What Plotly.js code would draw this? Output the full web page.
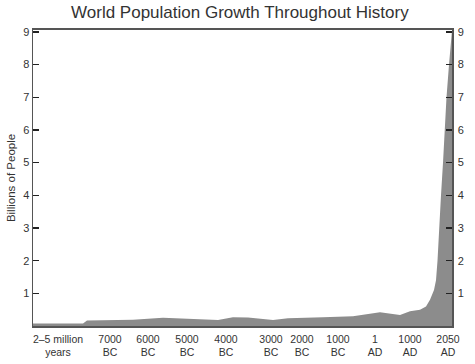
<!DOCTYPE html>
<html>
<head>
<meta charset="utf-8">
<script src="https://cdn.plot.ly/plotly-3.0.1.min.js"></script>
<style>html,body{margin:0;padding:0;background:#fff;}#chart{width:475px;height:364px;}</style>
</head>
<body>
<div id="chart"></div>
<script>
// Era labels and their positions on the (non-linear) time scale
const eraLabels = ["2–5 million<br>years", "7000<br>BC", "6000<br>BC", "5000<br>BC", "4000<br>BC", "3000<br>BC", "2000<br>BC", "1000<br>BC", "1<br>AD", "1000<br>AD", "2050<br>AD"];
const eraPos = [25, 77, 115, 154, 193, 238, 269, 305, 342, 377, 415];

// Population (billions) sampled along the time scale
const timePos = [0, 50, 54, 100, 130, 160, 185, 200, 215, 240, 255, 290, 320, 347, 360, 367, 377, 387, 393, 397, 401, 403, 404.5, 406, 408, 410, 411.5, 413.5, 416, 418.5, 419];
const population = [0.08, 0.08, 0.17, 0.19, 0.25, 0.2, 0.18, 0.27, 0.26, 0.18, 0.24, 0.27, 0.3, 0.42, 0.38, 0.34, 0.45, 0.5, 0.6, 0.8, 1.1, 1.4, 2, 3, 4, 5, 6, 7, 8, 9, 9.05];

const yTicks = [1, 2, 3, 4, 5, 6, 7, 8, 9];

const font = {family: "Liberation Sans, Arial, sans-serif", color: "#333"};

const data = [
  {x: timePos, y: population, type: "scatter", mode: "lines", fill: "tozeroy",
   fillcolor: "#8c8c8c", line: {width: 0, color: "#8c8c8c"}, hoverinfo: "none"},
  {x: [timePos[0]], y: [population[0]], yaxis: "y2", type: "scatter", mode: "none", hoverinfo: "none", showlegend: false}
];

const layout = {
  width: 475, height: 364,
  margin: {l: 33, r: 23, t: 30, b: 38},
  showlegend: false,
  paper_bgcolor: "#fff", plot_bgcolor: "#fff",
  font: font,
  title: {text: "World Population Growth Throughout History", x: 0.505, xanchor: "center", y: 0.967, yanchor: "middle",
          font: {family: font.family, size: 17, color: "#333"}},
  xaxis: {range: [0, 419], tickvals: eraPos, ticktext: eraLabels, ticks: "", showgrid: false, zeroline: false,
          showline: true, linecolor: "#555", linewidth: 2, mirror: true, ticklabelstandoff: 2,
          tickfont: {size: 10.5, color: "#333"}},
  yaxis: {range: [0, 9.06], tickvals: yTicks, ticks: "inside", ticklen: 6, tickwidth: 1.5, tickcolor: "#222",
          showgrid: false, zeroline: false, showline: true, linecolor: "#555", linewidth: 1.5,
          tickfont: {size: 11, color: "#333"},
          title: {text: "Billions of People", font: {size: 11.5, color: "#333"}, standoff: 5}},
  yaxis2: {range: [0, 9.06], overlaying: "y", side: "right", tickvals: yTicks, ticks: "inside", ticklen: 6, tickwidth: 1.5,
           tickcolor: "#222", showgrid: false, zeroline: false, showline: true, linecolor: "#555", linewidth: 1.5,
           ticklabelstandoff: 2, tickfont: {size: 11, color: "#333"}}
};

Plotly.newPlot("chart", data, layout, {displayModeBar: false, staticPlot: true});
</script>
</body>
</html>
